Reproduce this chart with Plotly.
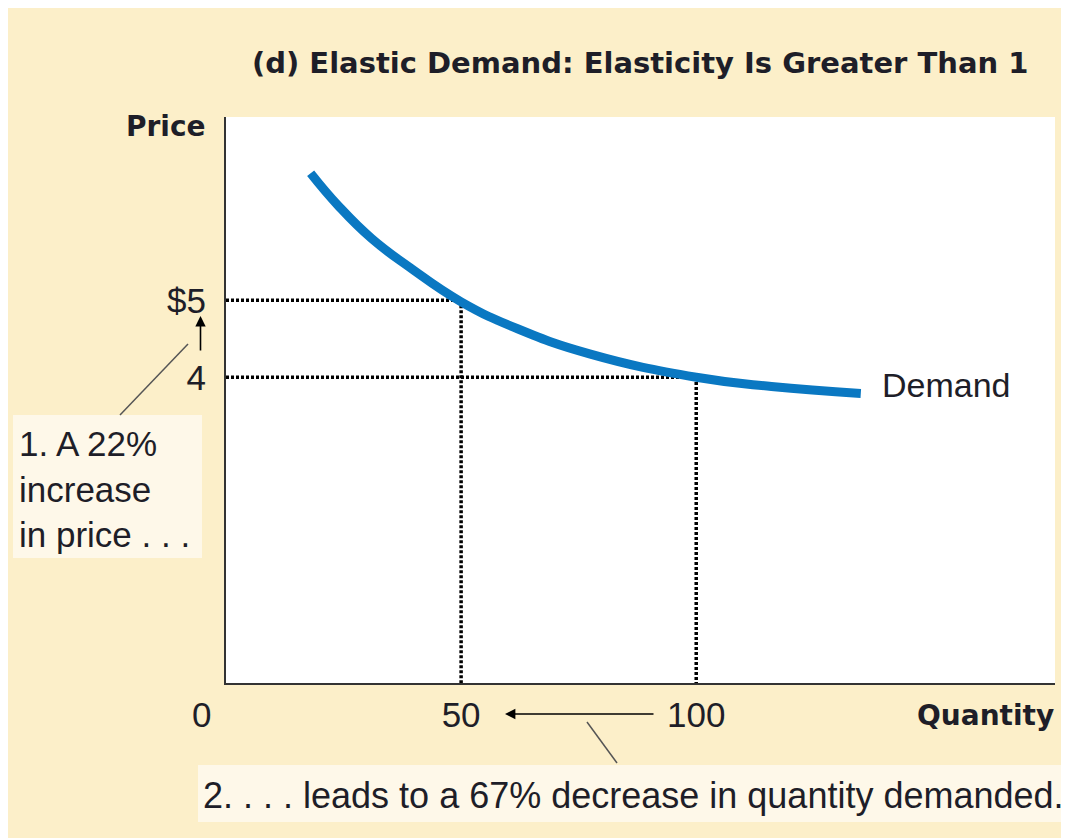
import plotly.graph_objects as go

# ============================ DATA ===============================
# demand curve (quantity, price)
q_demand = [18, 24, 31, 39, 50, 62, 77.5, 100, 116, 135]
p_demand = [6.65, 6.22, 5.80, 5.43, 4.98, 4.63, 4.30, 4.0, 3.88, 3.79]

# the two marked points on the curve
q_marks = [50, 100]
p_marks = [5, 4]

x_tickvals = [50, 100]
x_ticktext = ['50', '100']
y_tickvals = [4, 5]
y_ticktext = ['4', '$5']

title_text = '(d) Elastic Demand: Elasticity Is Greater Than 1'
note_price = '1. A 22%<br>increase<br>in price . . .'
note_qty = '2. . . . leads to a 67% decrease in quantity demanded.'

# ============================ LAYOUT HELPERS ===============================
# positions below are measured on the page; the figure itself starts 8px in
W, H = 1069, 838
OX, OY = 8, 8
L, T = 226 - OX, 117 - OY
R, B = W - (1055 - OX), H - (683 - OY)
PW, PH = W - L - R, H - T - B

BEIGE = '#fcefc9'
LIGHT = '#fef8e9'
BLUE = '#0a78c2'
INK = '#1e1e28'
SANS = 'Liberation Sans, Arial, sans-serif'
BOLD = 'DejaVu Sans, sans-serif'


def px(x):
    return (x - OX - L) / PW


def py(y):
    return (H - B - (y - OY)) / PH


def rect(x0, y0, x1, y1, color):
    return dict(type='rect', xref='paper', yref='paper',
                x0=px(x0), x1=px(x1), y0=py(y1), y1=py(y0),
                fillcolor=color, line=dict(width=0), layer='below')


def seg(x0, y0, x1, y1):
    return dict(type='line', xref='paper', yref='paper',
                x0=px(x0), x1=px(x1), y0=py(y0), y1=py(y1),
                line=dict(color='#555555', width=1.5))


def label(text, x, y, size, family=SANS, xanchor='center', align='center'):
    return dict(text=text, xref='paper', yref='paper', x=px(x), y=py(y),
                xanchor=xanchor, yanchor='middle', align=align, showarrow=False,
                font=dict(family=family, size=size, color=INK))


# ============================ FIGURE ===============================
fig = go.Figure()

# dotted guide lines
for q, p in zip(q_marks, p_marks):
    fig.add_trace(go.Scatter(x=[0, q, q], y=[p, p, 0], mode='lines',
                             line=dict(color='black', width=3.5, dash='3px,2px'),
                             hoverinfo='skip'))

fig.add_trace(go.Scatter(x=q_demand, y=p_demand, mode='lines',
                         line=dict(color=BLUE, width=9, shape='spline', smoothing=1.3),
                         name='Demand'))

shapes = [
    rect(13, 415, 202, 558, LIGHT),
    rect(198, 765, W + OX, 822, LIGHT),
    seg(188, 344, 120, 415),
    seg(587, 722, 617, 763),
]

annotations = [
    label('<b>' + title_text + '</b>', 640, 63, 29, BOLD),
    label('<b>Price</b>', 208, 126, 28, BOLD, xanchor='right'),
    label('<b>Quantity</b>', 1056, 715, 28, BOLD, xanchor='right'),
    label('Demand', 880, 385, 34, xanchor='left'),
    label('0', 201, 714, 35),
    label(note_price, 17, 489, 35, xanchor='left', align='left'),
    label(note_qty, 201, 795, 36, xanchor='left', align='left'),
    # price arrow 4 -> $5
    dict(text='', xref='paper', yref='paper', x=px(200.5), y=py(316),
         ax=0, ay=36, showarrow=True, arrowhead=2, arrowsize=1.3,
         arrowwidth=1.6, arrowcolor='black'),
    # quantity arrow 100 -> 50
    dict(text='', xref='paper', yref='paper', x=px(505), y=py(714),
         ax=150, ay=0, showarrow=True, arrowhead=2, arrowsize=1.3,
         arrowwidth=1.6, arrowcolor='black'),
]

fig.update_layout(
    width=W, height=H,
    margin=dict(l=L, r=R, t=T, b=B),
    paper_bgcolor=BEIGE,
    plot_bgcolor='white',
    showlegend=False,
    shapes=shapes,
    annotations=annotations,
    xaxis=dict(range=[0, 176.3], showgrid=False, zeroline=False,
               showline=True, linecolor='#333333', linewidth=2,
               tickvals=x_tickvals, ticktext=x_ticktext, ticks='',
               tickfont=dict(family=SANS, size=35, color=INK)),
    yaxis=dict(range=[0.03, 7.38], showgrid=False, zeroline=False,
               showline=True, linecolor='#333333', linewidth=2,
               tickvals=y_tickvals, ticktext=y_ticktext,
               ticks='outside', ticklen=11, tickcolor='rgba(0,0,0,0)',
               tickfont=dict(family=SANS, size=35, color=INK)),
)

fig.write_html("out.html")
